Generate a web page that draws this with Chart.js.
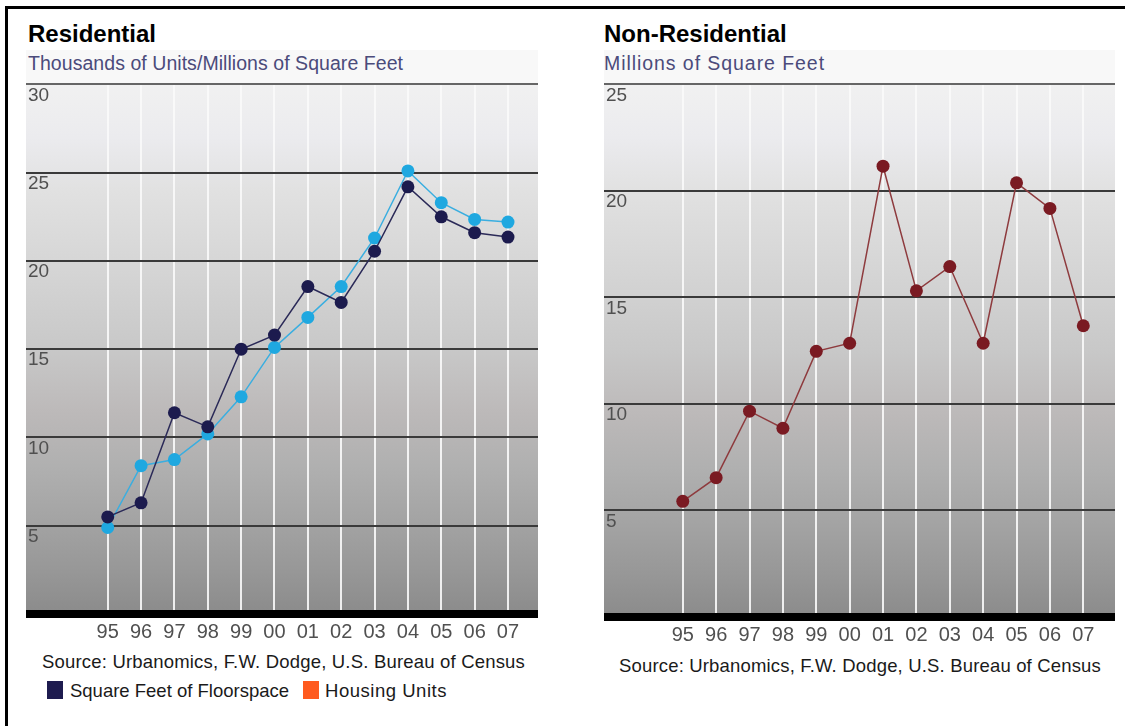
<!DOCTYPE html>
<html>
<head>
<meta charset="utf-8">
<title>Residential / Non-Residential construction</title>
<script src="https://cdn.jsdelivr.net/npm/chart.js@4.4.1/dist/chart.umd.min.js"></script>
<style>
  html, body { margin: 0; padding: 0; background: #fff; }
  body {
    width: 1125px; height: 726px; position: relative; overflow: hidden;
    font-family: "Liberation Sans", Arial, sans-serif;
  }
  .frame-top  { position: absolute; left: 5px; top: 6px; width: 1120px; height: 3px; background: #000; }
  .frame-left { position: absolute; left: 5px; top: 6px; width: 3px; height: 720px; background: #000; }
  .title {
    position: absolute; top: 22px; font-weight: bold; font-size: 24px; line-height: 24px;
    color: #000; white-space: nowrap;
  }
  .band { position: absolute; top: 50px; height: 33px; background: #f8f8f8; }
  .subtitle {
    position: absolute; top: 53px; font-size: 19.5px; line-height: 20px;
    color: #4b4b7b; white-space: nowrap;
  }
  .source {
    position: absolute; font-size: 18.5px; line-height: 19px;
    color: #1a1a1a; white-space: nowrap;
  }
  .key { position: absolute; top: 681px; width: 16px; height: 18px; }
  .key-text {
    position: absolute; top: 681px; font-size: 18.5px; line-height: 19px;
    color: #1a1a1a; white-space: nowrap;
  }
  canvas { position: absolute; }
</style>
</head>
<body>
<div class="frame-top"></div>
<div class="frame-left"></div>

<!-- residential panel -->
<div class="title" style="left:28px">Residential</div>
<div class="band" style="left:26px;width:512px"></div>
<div class="subtitle" style="left:28px" data-w="375">Thousands of Units/Millions of Square Feet</div>
<canvas id="res-chart" width="512" height="579" style="left:26px;top:71px"></canvas>
<div class="source" style="left:42px;top:652px" data-w="483">Source: Urbanomics, F.W. Dodge, U.S. Bureau of Census</div>
<div class="key" style="left:47px;background:#1e1b4f"></div>
<div class="key-text" style="left:70px" data-w="219">Square Feet of Floorspace</div>
<div class="key" style="left:303px;background:#ff5a1e"></div>
<div class="key-text" style="left:325px" data-w="122">Housing Units</div>

<!-- non-residential panel -->
<div class="title" style="left:604px">Non-Residential</div>
<div class="band" style="left:604px;width:511px"></div>
<div class="subtitle" style="left:604px" data-w="221">Millions of Square Feet</div>
<canvas id="nonres-chart" width="511" height="582" style="left:604px;top:71px"></canvas>
<div class="source" style="left:619px;top:656px" data-w="482">Source: Urbanomics, F.W. Dodge, U.S. Bureau of Census</div>

<script>
// ── Data ─────────────────────────────────────────────────────────────────────
const years = ["95", "96", "97", "98", "99", "00", "01", "02", "03", "04", "05", "06", "07"];

// residential: millions of sq ft / thousands of units
const resFloorspace   = [5.5, 6.3, 11.4, 10.6, 15.0, 15.8, 18.55, 17.65, 20.55, 24.2, 22.5, 21.6, 21.35];
const resHousingUnits = [4.9, 8.4, 8.75, 10.2, 12.3, 15.1, 16.8, 18.55, 21.3, 25.1, 23.3, 22.35, 22.2];
const resTicks = [0, 5, 10, 15, 20, 25, 30];

// non-residential: millions of sq ft
const nonResFloorspace = [5.43, 6.54, 9.66, 8.86, 12.47, 12.85, 21.16, 15.31, 16.45, 12.85, 20.38, 19.18, 13.67];
const nonResTicks = [0, 5, 10, 15, 20, 25];

// ── Shared pieces ────────────────────────────────────────────────────────────
// grey vertical wash behind the plot area
const plotBackground = {
  id: "plotBackground",
  beforeDraw(chart) {
    const { ctx, chartArea: a } = chart;
    const g = ctx.createLinearGradient(0, a.top, 0, a.bottom);
    g.addColorStop(0.00, "#f1f1f1");
    g.addColorStop(0.10, "#ebebee");
    g.addColorStop(0.20, "#e1e1e1");
    g.addColorStop(0.35, "#d5d5d5");
    g.addColorStop(0.50, "#c8c8c8");
    g.addColorStop(0.62, "#bcb9b9");
    g.addColorStop(0.72, "#b0b0b0");
    g.addColorStop(0.82, "#a4a4a4");
    g.addColorStop(0.92, "#979797");
    g.addColorStop(1.00, "#8b8b8b");
    ctx.save();
    ctx.fillStyle = g;
    ctx.fillRect(a.left, a.top, a.right - a.left, a.bottom - a.top);
    ctx.restore();
  }
};

const toPoints = (arr) => arr.map((v, i) => ({ x: i, y: v }));

function series(label, values, line, dot) {
  return {
    label,
    data: toPoints(values),
    borderColor: line,
    backgroundColor: dot,
    pointBackgroundColor: dot,
    pointBorderColor: dot,
    borderWidth: 1.5,
    pointRadius: 6.5,
    pointBorderWidth: 0,
    tension: 0,
  };
}

function makeChart(id, datasets, yTicks, xMin, xMax) {
  const yMax = yTicks[yTicks.length - 1];
  return new Chart(document.getElementById(id), {
    type: "line",
    data: { datasets },
    options: {
      responsive: false,
      animation: false,
      layout: { autoPadding: false, padding: { top: 12, left: 0, right: 0, bottom: 0 } },
      plugins: { legend: { display: false }, tooltip: { enabled: false } },
      scales: {
        x: {
          type: "linear",
          min: xMin,
          max: xMax,
          afterBuildTicks: (s) => { s.ticks = years.map((_, i) => ({ value: i })); },
          afterFit: (s) => { s.height = 36; },
          grid: { color: "rgba(250,250,250,0.9)", lineWidth: 2, drawTicks: false },
          border: { display: true, color: "#000", width: 8 },
          ticks: {
            autoSkip: false,
            maxRotation: 0,
            padding: 6,
            color: "#505050",
            font: { family: "'Liberation Sans', Arial, sans-serif", size: 20 },
            callback: (v) => years[v] ?? "",
          },
        },
        y: {
          min: 0,
          max: yMax,
          afterBuildTicks: (s) => { s.ticks = yTicks.map((v) => ({ value: v })); },
          afterFit: (s) => { s.width = 0; },
          grid: {
            color: (c) => (c.tick && c.tick.value === yMax ? "#666" : "#3a3a3a"),
            lineWidth: 2,
            drawTicks: false,
          },
          border: { display: false },
          ticks: {
            mirror: true,
            padding: 2,
            labelOffset: 11,
            color: "#505050",
            font: { family: "'Liberation Sans', Arial, sans-serif", size: 19 },
            callback: (v) => (v === 0 ? "" : v),
          },
        },
      },
    },
    plugins: [plotBackground],
  });
}

// ── Charts ───────────────────────────────────────────────────────────────────
makeChart("res-chart", [
  series("Square Feet of Floorspace", resFloorspace, "#2b2a58", "#1c1b4e"),
  series("Housing Units", resHousingUnits, "#3aaee0", "#1fa8e0"),
], resTicks, -2.45, 12.9);

makeChart("nonres-chart", [
  series("Square Feet of Floorspace", nonResFloorspace, "#8e3b3e", "#7a1a22"),
], nonResTicks, -2.36, 12.95);

// stretch captions to their column widths
document.querySelectorAll("[data-w]").forEach((el) => {
  const target = +el.dataset.w;
  const w = el.getBoundingClientRect().width;
  el.style.letterSpacing = ((target - w) / el.textContent.length) + "px";
});
</script>
</body>
</html>
